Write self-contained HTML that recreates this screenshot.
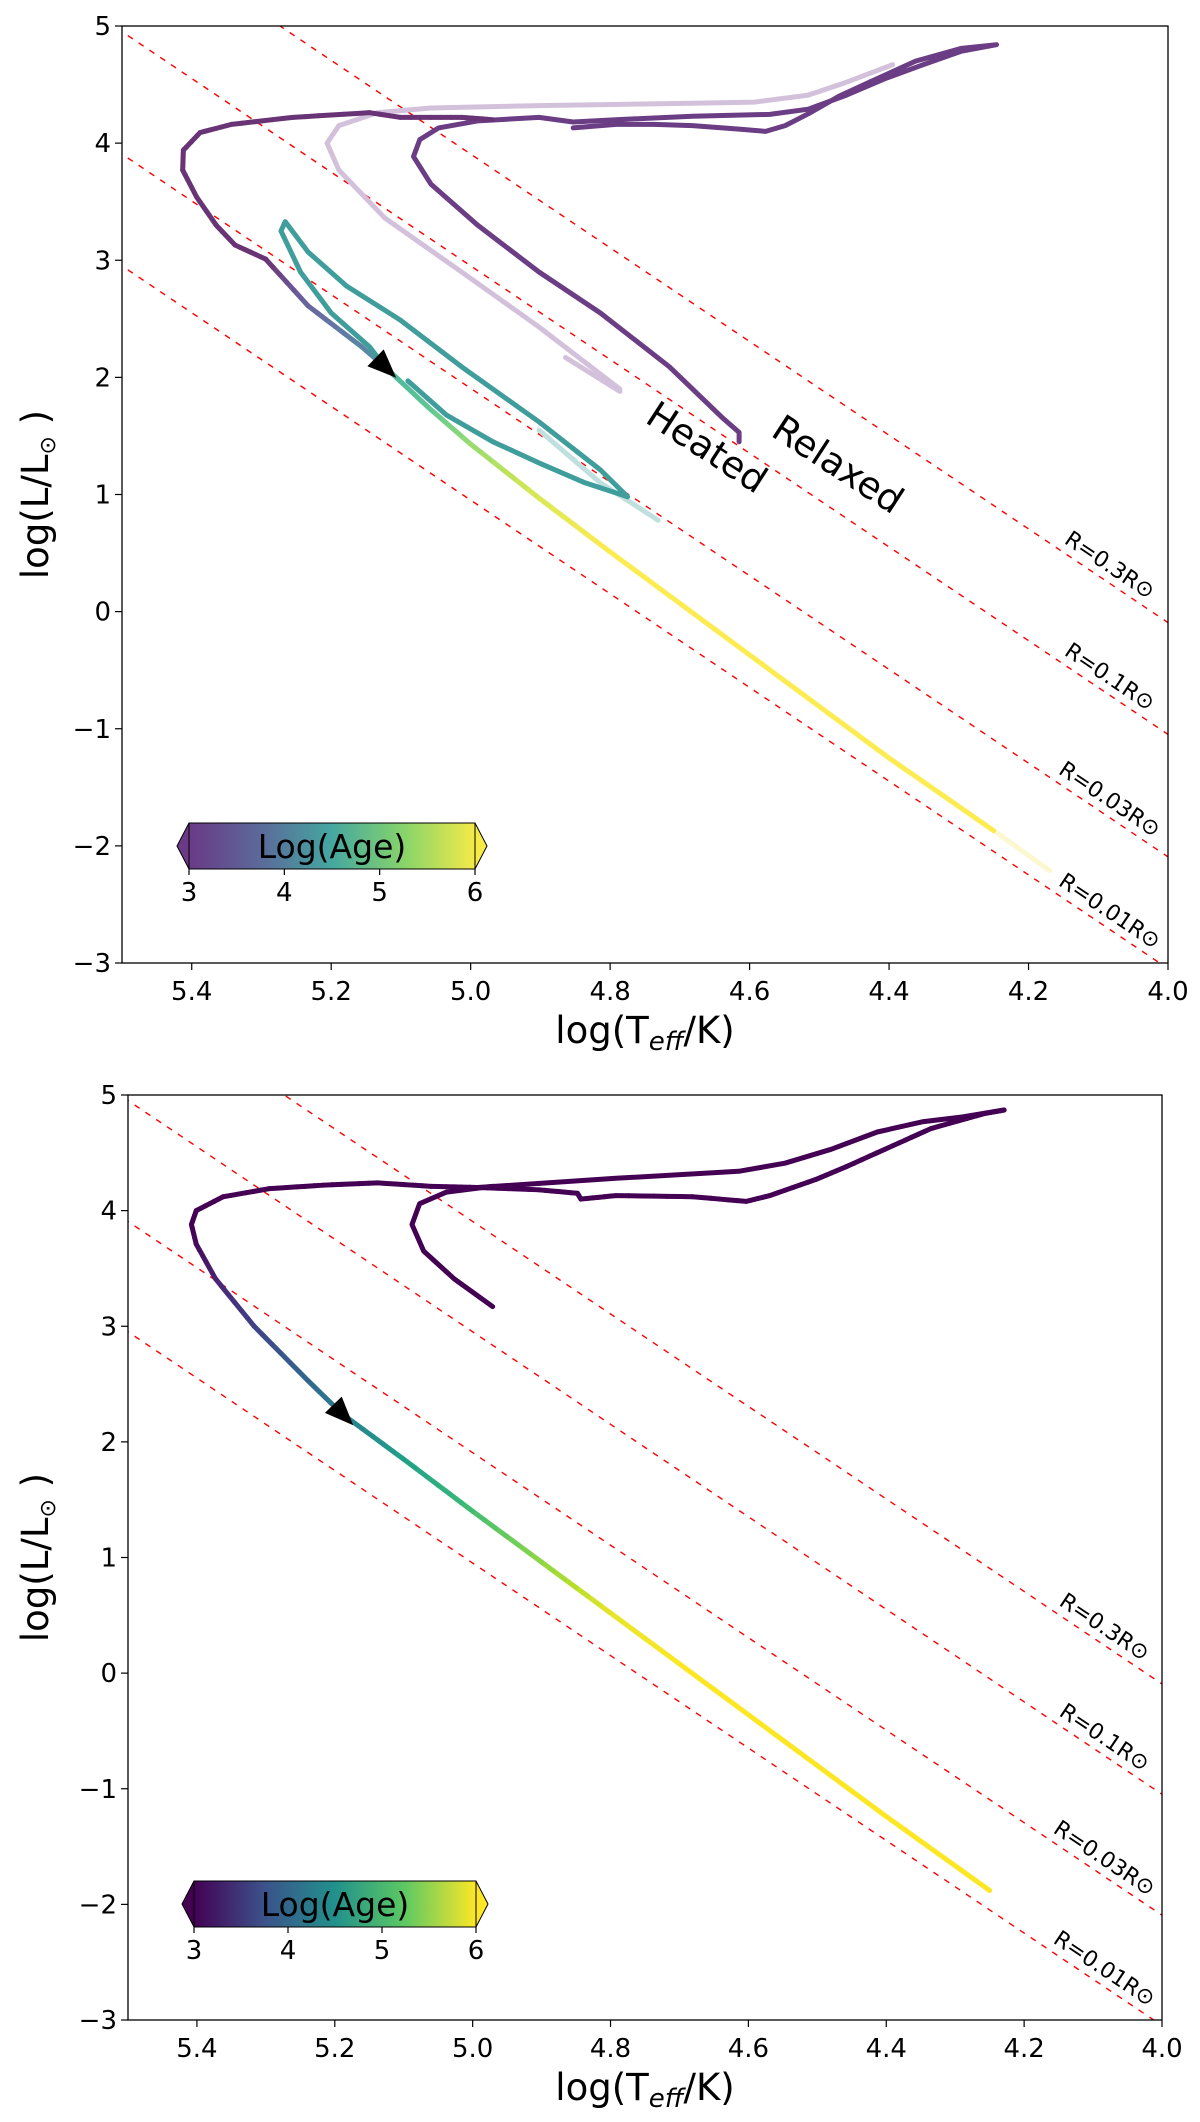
<!DOCTYPE html>
<html><head><meta charset="utf-8">
<style>
html,body{margin:0;padding:0;background:#fff;}
svg{display:block;font-family:"DejaVu Sans","Liberation Sans",sans-serif;}
</style></head>
<body>
<svg id="fig" width="1200" height="2122" viewBox="0 0 1200 2122" xmlns="http://www.w3.org/2000/svg">
<defs>
<linearGradient id="cbTop" x1="0" x2="1" y1="0" y2="0">
<stop offset="0" stop-color="#6a3a86"/><stop offset="0.25" stop-color="#5b6a9a"/><stop offset="0.5" stop-color="#45a7a0"/><stop offset="0.75" stop-color="#86d46a"/><stop offset="1" stop-color="#f5ea48"/>
</linearGradient>
<linearGradient id="cbBot" x1="0" x2="1" y1="0" y2="0">
<stop offset="0" stop-color="#440154"/><stop offset="0.25" stop-color="#3b528b"/><stop offset="0.5" stop-color="#21918c"/><stop offset="0.75" stop-color="#5ec962"/><stop offset="1" stop-color="#fde725"/>
</linearGradient>
</defs>
</svg>
<script>
// ---------- data ----------
const xTicks=[5.4,5.2,5.0,4.8,4.6,4.4,4.2,4.0];
const xTickLabels=["5.4","5.2","5.0","4.8","4.6","4.4","4.2","4.0"];
const yTicks=[5,4,3,2,1,0,-1,-2,-3];
const yTickLabels=["5","4","3","2","1","0","\u22121","\u22122","\u22123"];
const radii=[0.3,0.1,0.03,0.01];
const radiiLabels=["R=0.3R\u2299","R=0.1R\u2299","R=0.03R\u2299","R=0.01R\u2299"];
const cbTicks=[3,4,5,6];

// top panel tracks
const relaxedT=[4.615,4.615,4.638,4.715,4.814,4.902,4.990,5.057,5.082,5.073,5.046,4.990,4.902,4.853,4.792,4.682,4.571,4.516,4.461,4.406,4.351,4.296,4.246,4.296,4.362,4.428,4.472,4.516,4.549,4.577,4.615,4.682,4.737,4.792,4.853];
const relaxedL=[1.45,1.53,1.65,2.09,2.55,2.90,3.30,3.65,3.885,4.03,4.13,4.19,4.22,4.18,4.20,4.23,4.245,4.29,4.41,4.55,4.67,4.785,4.84,4.81,4.70,4.52,4.40,4.25,4.15,4.10,4.12,4.15,4.16,4.16,4.13];
const mainTopT=[5.123,5.156,5.233,5.294,5.338,5.365,5.393,5.413,5.412,5.388,5.343,5.255,5.145,5.101,5.013,4.968];
const mainTopL=[2.09,2.26,2.61,3.01,3.13,3.30,3.54,3.77,3.94,4.09,4.16,4.22,4.26,4.22,4.22,4.20];
const heatedFaintT=[4.786,4.902,5.013,5.123,5.189,5.206,5.189,5.134,5.057,4.902,4.682,4.593,4.516,4.461,4.395];
const heatedFaintL=[1.90,2.43,2.90,3.36,3.77,4.00,4.15,4.26,4.30,4.32,4.34,4.35,4.41,4.52,4.67];
const spurT=[4.864,4.786];
const spurL=[2.17,1.88];
const loopT=[5.123,5.145,5.200,5.244,5.272,5.266,5.233,5.178,5.101,5.013,4.902,4.814,4.775,4.836,4.902,4.968,5.035,5.090];
const loopL=[2.09,2.26,2.55,2.90,3.25,3.33,3.07,2.78,2.49,2.09,1.62,1.21,0.98,1.10,1.27,1.45,1.68,1.97];
const loopFaintT=[4.902,4.814,4.731];
const loopFaintL=[1.55,1.10,0.78];
const coolTopT=[5.123,5.06,5.0,4.9,4.8,4.7,4.6,4.5,4.4,4.25];
const coolTopL=[2.09,1.74,1.43,0.96,0.51,0.07,-0.37,-0.81,-1.25,-1.87];
const coolTopAge=[4.7,5.0,5.4,5.8,6,6,6,6,6,6];
const coolFaintT=[4.25,4.17];
const coolFaintL=[-1.87,-2.21];

// bottom panel tracks
const botMainT=[4.25,4.4,4.5,4.6,4.7,4.8,4.9,5.0,5.1,5.189,5.239,5.317,5.373,5.401,5.408,5.401,5.362,5.295,5.217,5.138,5.060,4.993,4.904,4.848,4.843,4.792,4.681,4.603,4.569,4.502,4.458,4.391,4.335,4.257,4.229];
const botMainL=[-1.88,-1.24,-0.80,-0.36,0.08,0.52,0.96,1.40,1.85,2.24,2.53,3.00,3.41,3.71,3.88,4.00,4.12,4.19,4.22,4.24,4.21,4.20,4.18,4.15,4.10,4.13,4.12,4.08,4.13,4.27,4.38,4.56,4.71,4.84,4.87];
const botMainAge=[6,6,6,6,6,5.9,5.5,5.1,4.7,4.3,4.0,3.6,3.3,3.1,3,3,3,3,3,3,3,3,3,3,3,3,3,3,3,3,3,3,3,3,3];
const botUpperT=[4.993,4.792,4.614,4.547,4.480,4.413,4.346,4.290,4.229];
const botUpperL=[4.20,4.28,4.34,4.41,4.53,4.68,4.77,4.81,4.87];
const botSecondT=[4.971,5.027,5.071,5.088,5.077,5.038,4.971];
const botSecondL=[3.17,3.41,3.65,3.88,4.06,4.16,4.21];

// ---------- helpers ----------
const svg=document.getElementById('fig');
const NS='http://www.w3.org/2000/svg';
function mk(tag,attrs,parent){const e=document.createElementNS(NS,tag);for(const k in attrs)e.setAttribute(k,attrs[k]);(parent||svg).appendChild(e);return e;}
const viridis=['#440154','#482878','#3e4989','#31688e','#26828e','#1f9e89','#35b779','#6ece58','#b5de2b','#fde725'];
function hex(h){return [parseInt(h.substr(1,2),16),parseInt(h.substr(3,2),16),parseInt(h.substr(5,2),16)];}
function vcol(age,alpha){let t=Math.max(0,Math.min(1,(age-3)/3))*9;let i=Math.min(8,Math.floor(t)),f=t-i;const a=hex(viridis[i]),b=hex(viridis[i+1]);
 let c=a.map((v,k)=>v+(b[k]-v)*f);if(alpha<1)c=c.map(v=>v*alpha+255*(1-alpha));return 'rgb('+c.map(Math.round).join(',')+')';}

function panel(P){
 const g=mk('g',{});
 
 
 const X=v=>P.x0+(5.5-v)/1.5*(P.x1-P.x0);
 const Y=v=>P.y0+(5-v)/8*(P.y1-P.y0);
 const clip='clip'+P.name;
 const cp=mk('clipPath',{id:clip},g);mk('rect',{x:P.x0,y:P.y0,width:P.x1-P.x0,height:P.y1-P.y0},cp);
 const plot=mk('g',{'clip-path':'url(#'+clip+')'},g);
 radii.forEach((r,i)=>{
  const Lat=t=>2*Math.log10(r)+4*(t-3.762);
  const ln=mk('line',{x1:X(5.6),y1:Y(Lat(5.6)),x2:X(3.9),y2:Y(Lat(3.9)),stroke:'#ff0000','stroke-width':1.4,'stroke-dasharray':'6,7'},plot);
  
  
  const tx=4.095, ty=Lat(tx);
  const ang=Math.atan2(Y(Lat(4.0))-Y(Lat(4.2)),X(4.0)-X(4.2))*180/Math.PI;
  const px=X(tx)+4, py=Y(ty)-7;
  const t=mk('text',{x:px,y:py,'font-size':22,'text-anchor':'middle',transform:'rotate('+ang+' '+px+' '+py+')'},g);
  t.textContent=radiiLabels[i];
  
  
 });
 function line(T,L,color,w,name){
  const d=T.map((t,i)=>(i?'L':'M')+X(t).toFixed(1)+' '+Y(L[i]).toFixed(1)).join(' ');
  const p=mk('path',{d:d,fill:'none',stroke:color,'stroke-width':w,'stroke-linejoin':'round','stroke-linecap':'round'},plot);
  
  
 }
 function grad(T,L,A,alpha,w,name){
  const gg=mk('g',{},plot);
  
  
  for(let i=0;i<T.length-1;i++){
   const n=6;
   for(let k=0;k<n;k++){
    const f0=k/n,f1=(k+1)/n;
    const ta=T[i]+(T[i+1]-T[i])*f0,tb=T[i]+(T[i+1]-T[i])*f1;
    const la=L[i]+(L[i+1]-L[i])*f0,lb=L[i]+(L[i+1]-L[i])*f1;
    const ag=A[i]+(A[i+1]-A[i])*(f0+f1)/2;
    mk('line',{x1:X(ta),y1:Y(la),x2:X(tb),y2:Y(lb),stroke:vcol(ag,alpha),'stroke-width':w,'stroke-linecap':'round'},gg);
   }
  }
 }
 P.draw(line,grad,X,Y);
 const a=P.arrow, ax=X(a[0]), ay=Y(a[1]);
 const dx=X(a[2])-ax, dy=Y(a[3])-ay, len=Math.hypot(dx,dy), ux=dx/len, uy=dy/len;
 const s=26, tipx=ax+ux*s*0.6, tipy=ay+uy*s*0.6, bx=ax-ux*s*0.5, by=ay-uy*s*0.5;
 const ar=mk('polygon',{points:[tipx,tipy,bx-uy*s*0.45,by+ux*s*0.45,bx+uy*s*0.45,by-ux*s*0.45].map(v=>v.toFixed(1)).join(' '),fill:'#000'},g);
 
 
 const fr=mk('rect',{x:P.x0,y:P.y0,width:P.x1-P.x0,height:P.y1-P.y0,fill:'none',stroke:'#000','stroke-width':1.3},g);
 
 
 xTicks.forEach((v,i)=>{
  mk('line',{x1:X(v),x2:X(v),y1:P.y1,y2:P.y1+7,stroke:'#000','stroke-width':1.2},g);
  const t=mk('text',{x:X(v),y:P.y1+37,'font-size':26,'text-anchor':'middle'},g);t.textContent=xTickLabels[i];
  
  
 });
 yTicks.forEach((v,i)=>{
  mk('line',{x1:P.x0-7,x2:P.x0,y1:Y(v),y2:Y(v),stroke:'#000','stroke-width':1.2},g);
  const t=mk('text',{x:P.x0-11,y:Y(v)+9,'font-size':26,'text-anchor':'end'},g);t.textContent=yTickLabels[i];
  
  
 });
 const xl=mk('text',{x:(P.x0+P.x1)/2,y:P.y1+80,'font-size':37,'text-anchor':'middle'},g);
 xl.innerHTML='log(T<tspan font-size="26" font-style="italic" dy="7">eff</tspan><tspan dy="-7">/K)</tspan>';
 
 
 const cy=(P.y0+P.y1)/2;
 const yl=mk('text',{x:48,y:cy,'font-size':37,'text-anchor':'middle',transform:'rotate(-90 48 '+cy+')'},g);
 yl.innerHTML='log(L/L<tspan font-size="22" dy="7">\u2299</tspan><tspan dy="-7"> )</tspan>';
 
 
 const C=P.cb;
 const cb=mk('g',{},g);
 
 
 const cx=v=>C.x0+(v-3)/3*(C.x1-C.x0);
 mk('polygon',{points:`${C.x0},${C.y0} ${C.x0-12},${(C.y0+C.y1)/2} ${C.x0},${C.y1}`,fill:C.lo,stroke:'#000','stroke-width':1},cb);
 mk('polygon',{points:`${C.x1},${C.y0} ${C.x1+12},${(C.y0+C.y1)/2} ${C.x1},${C.y1}`,fill:C.hi,stroke:'#000','stroke-width':1},cb);
 mk('rect',{x:C.x0,y:C.y0,width:C.x1-C.x0,height:C.y1-C.y0,fill:'url(#'+C.grad+')',stroke:'#000','stroke-width':1},cb);
 cbTicks.forEach(v=>{
  mk('line',{x1:cx(v),x2:cx(v),y1:C.y1,y2:C.y1+6,stroke:'#000','stroke-width':1.2},cb);
  const t=mk('text',{x:cx(v),y:C.y1+32,'font-size':26,'text-anchor':'middle'},cb);t.textContent=String(v);
 });
 const ct=mk('text',{x:(C.x0+C.x1)/2,y:(C.y0+C.y1)/2+12,'font-size':33,'text-anchor':'middle'},cb);ct.textContent='Log(Age)';
 
 
 if(P.extra)P.extra(g,X,Y);
}

panel({name:'top-panel',x0:122,x1:1168,y0:26,y1:963,arrow:[5.123,2.09,5.09,1.9],
 cb:{x0:189,x1:475,y0:823,y1:869,grad:'cbTop',lo:'#6a3a86',hi:'#f5ea48'},
 draw:(line,grad)=>{
  line(heatedFaintT,heatedFaintL,'#d3c1dc',5,'heated-track-faint');
  line(spurT,spurL,'#d3c1dc',5,'heated-spur-faint');
  line(loopFaintT,loopFaintL,'#bfe0de',5,'heated-loop-faint');
  line(coolFaintT,coolFaintL,'#fbf7cf',5,'cooling-track-faint');
  line(relaxedT,relaxedL,'#6b3d84',5,'relaxed-track');
  grad(mainTopT,mainTopL,mainTopT.map((t,i)=>i<3?4.4-i*0.4:3),0.8,5,'main-track-upper');
  line(loopT,loopL,'#3f9d9b',5,'heated-loop');
  grad(coolTopT,coolTopL,coolTopAge,0.8,5,'cooling-track');
 },
 extra:(g,X,Y)=>{
  const h=mk('text',{x:700,y:458,'font-size':37,'text-anchor':'middle',transform:'rotate(33 700 458)'},g);h.textContent='Heated';
  
  
  const r=mk('text',{x:831,y:475,'font-size':37,'text-anchor':'middle',transform:'rotate(33 831 475)'},g);r.textContent='Relaxed';
  
  
 }
});

panel({name:'bottom-panel',x0:128,x1:1162,y0:1095,y1:2020,arrow:[5.189,2.24,5.15,2.0],
 cb:{x0:194,x1:476,y0:1881,y1:1927,grad:'cbBot',lo:'#440154',hi:'#fde725'},
 draw:(line,grad)=>{
  line(botUpperT,botUpperL,'#440154',5,'upper-branch');
  line(botSecondT,botSecondL,'#440154',5,'second-track');
  grad(botMainT,botMainL,botMainAge,1,5,'main-track');
 }
});
</script>
</body></html>
